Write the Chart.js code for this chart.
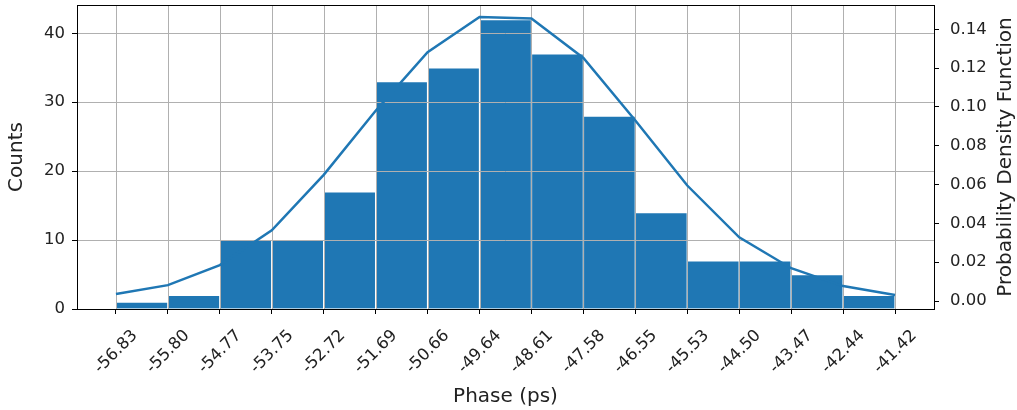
<!DOCTYPE html>
<html lang="en">
<head>
    <meta charset="UTF-8">
    <title>Phase histogram</title>
    <script src="https://cdn.jsdelivr.net/npm/chart.js"></script>
    <style>
        body { margin: 0; background: #fff; }
        #chart { display: block; }
    </style>
</head>
<body>
    <canvas id="chart" width="1017" height="410"></canvas>

    <script>
        // Bin edges (tick labels), counts per bin and the fitted PDF at each edge
        var edgeLabels = ["-56.83", "-55.80", "-54.77", "-53.75", "-52.72", "-51.69", "-50.66", "-49.64",
                          "-48.61", "-47.58", "-46.55", "-45.53", "-44.50", "-43.47", "-42.44", "-41.42"];
        var counts = [1, 2, 10, 10, 17, 33, 35, 42, 37, 28, 14, 7, 7, 5, 2];
        var pdf = [0.0036, 0.0082, 0.0185, 0.0364, 0.0650, 0.0980, 0.1282, 0.1463,
                   0.1455, 0.1252, 0.0930, 0.0595, 0.0328, 0.0169, 0.0077, 0.0031];
        var countTicks = [0, 10, 20, 30, 40];
        var pdfTicks = [0, 0.02, 0.04, 0.06, 0.08, 0.10, 0.12, 0.14];

        var blue = "#1f77b4";
        var font = "'DejaVu Sans', sans-serif";

        // bars sit between edges, line points sit on the edges (x in bin units)
        var barData = counts.map(function(c, i) { return { x: i + 0.5, y: c }; });
        var lineData = pdf.map(function(p, i) { return { x: i, y: p }; });

        function setTicks(values) {
            return function(scale) {
                scale.ticks = values.map(function(v) { return { value: v }; });
            };
        }

        // fixed axis sizes, no extra padding from the tick labels
        function fixSize(w, h) {
            return function(s) {
                if (w !== null) s.width = w;
                if (h !== null) s.height = h;
                s.paddingTop = 0; s.paddingBottom = 0;
                s.paddingLeft = 0; s.paddingRight = 0;
            };
        }

        // grid goes over the bars but under the PDF line, plus the frame and right label
        var gridPlugin = {
            id: 'gridOverBars',
            afterDatasetDraw: function(chart, args) {
                if (args.index !== 1) return;
                var ctx = chart.ctx, a = chart.chartArea;
                ctx.save();
                ctx.strokeStyle = "#b0b0b0";
                ctx.lineWidth = 1;
                ctx.beginPath();
                chart.scales.x.ticks.forEach(function(t) {
                    var px = Math.round(chart.scales.x.getPixelForValue(t.value)) + 0.5;
                    ctx.moveTo(px, a.top);
                    ctx.lineTo(px, a.bottom);
                });
                chart.scales.y.ticks.forEach(function(t) {
                    var py = Math.round(chart.scales.y.getPixelForValue(t.value)) + 0.5;
                    ctx.moveTo(a.left, py);
                    ctx.lineTo(a.right, py);
                });
                ctx.stroke();
                ctx.restore();
            },
            afterDraw: function(chart) {
                var ctx = chart.ctx, a = chart.chartArea;
                ctx.save();
                ctx.strokeStyle = "#000";
                ctx.lineWidth = 1;
                ctx.strokeRect(Math.round(a.left) + 0.5, Math.round(a.top) + 0.5,
                               Math.round(a.right) - Math.round(a.left), Math.round(a.bottom) - Math.round(a.top));
                // right axis title reads bottom to top
                ctx.fillStyle = "#222";
                ctx.font = "20px " + font;
                ctx.textAlign = "center";
                ctx.textBaseline = "middle";
                ctx.translate(1006, (a.top + a.bottom) / 2);
                ctx.rotate(-Math.PI / 2);
                ctx.fillText("Probability Density Function", 0, 0);
                ctx.restore();
            }
        };

        var tickGrid = { display: true, offset: false, drawOnChartArea: false, drawTicks: true,
                         tickLength: 5, tickColor: "#000", tickWidth: 1 };

        new Chart(document.getElementById('chart'), {
            type: 'bar',
            data: {
                datasets: [
                    {
                        type: 'line',
                        data: lineData,
                        yAxisID: 'y2',
                        borderColor: blue,
                        borderWidth: 2.5,
                        pointRadius: 0,
                        tension: 0,
                        fill: false
                    },
                    {
                        type: 'bar',
                        data: barData,
                        yAxisID: 'y',
                        backgroundColor: blue,
                        borderColor: "#fff",
                        borderWidth: 1,
                        borderSkipped: 'start',
                        barPercentage: 1,
                        categoryPercentage: 1
                    }
                ]
            },
            options: {
                responsive: false,
                animation: false,
                layout: { padding: { top: 5, left: 0, right: 0, bottom: 0 } },
                plugins: { legend: { display: false }, tooltip: { enabled: false } },
                scales: {
                    x: {
                        type: 'linear',
                        offset: false,
                        min: -0.75,
                        max: 15.75,
                        afterBuildTicks: setTicks(edgeLabels.map(function(_, i) { return i; })),
                        afterFit: fixSize(null, 101),
                        grid: tickGrid,
                        border: { display: false },
                        ticks: {
                            autoSkip: false,
                            minRotation: 45,
                            maxRotation: 45,
                            labelOffset: 19,
                            padding: 12,
                            color: "#222",
                            font: { family: font, size: 16.5 },
                            callback: function(v) { return edgeLabels[v]; }
                        },
                        title: { display: true, text: "Phase (ps)", color: "#222", padding: { top: 0, bottom: 1 },
                                 font: { family: font, size: 20 } }
                    },
                    y: {
                        position: 'left',
                        min: 0,
                        max: 44.1,
                        afterBuildTicks: setTicks(countTicks),
                        afterFit: fixSize(77, null),
                        grid: tickGrid,
                        border: { display: false },
                        ticks: { padding: 7, color: "#222", font: { family: font, size: 16.5 } },
                        title: { display: true, text: "Counts", color: "#222", padding: { top: 5, bottom: 0 },
                                 font: { family: font, size: 20 } }
                    },
                    y2: {
                        position: 'right',
                        min: -0.0041,
                        max: 0.1525,
                        afterBuildTicks: setTicks(pdfTicks),
                        afterFit: fixSize(83, null),
                        grid: tickGrid,
                        border: { display: false },
                        ticks: {
                            padding: 11,
                            color: "#222",
                            font: { family: font, size: 16.5 },
                            callback: function(v) { return v.toFixed(2); }
                        }
                    }
                }
            },
            plugins: [gridPlugin]
        });
    </script>
</body>
</html>
